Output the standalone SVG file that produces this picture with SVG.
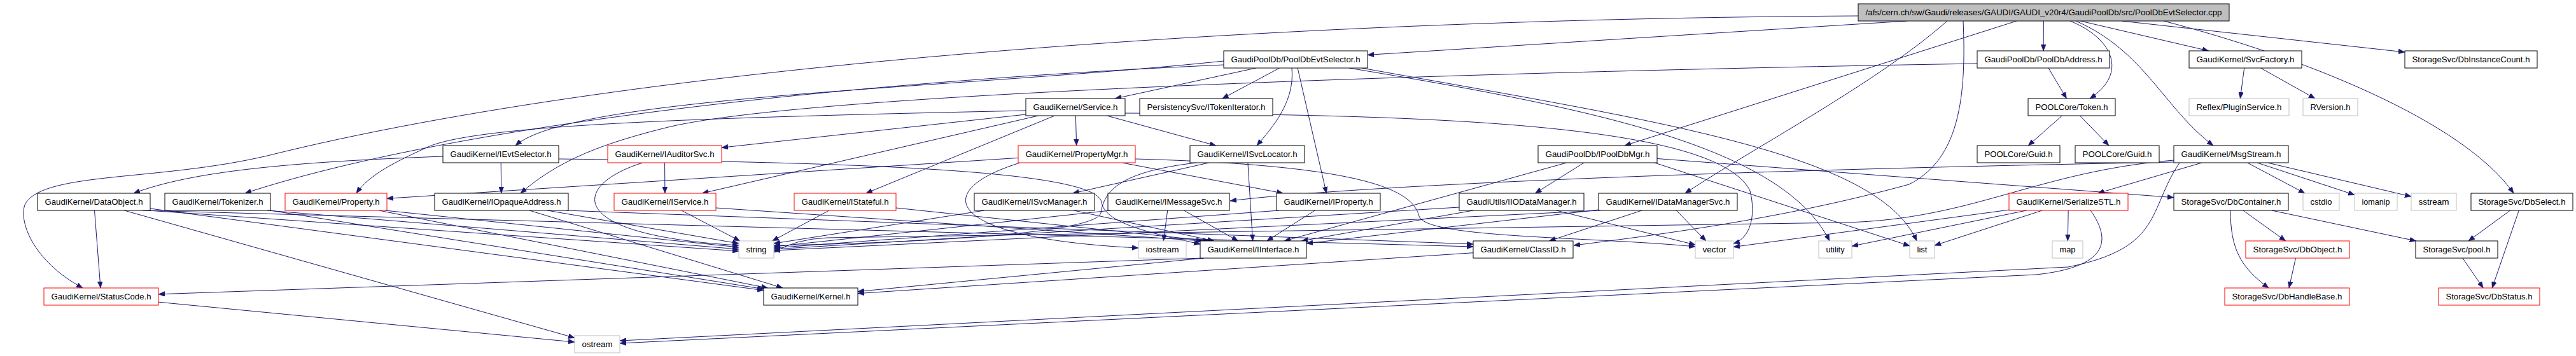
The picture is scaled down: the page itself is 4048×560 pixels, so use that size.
<svg xmlns="http://www.w3.org/2000/svg" width="4048" height="560" viewBox="0 0 4048 560">
<style>
.node rect{fill:#ffffff;stroke:#000000;stroke-width:1}
.node.red rect{stroke:#ff0000}
.node.sys rect{stroke:#bfbfbf}
.node.root rect{fill:#bfbfbf}
.node text{font-family:"Liberation Sans",Arial,sans-serif;font-size:13px;fill:#000000;text-anchor:middle}
#edges path{fill:none;stroke:#191970;stroke-width:1;marker-end:url(#arr)}
</style>
<defs>
<marker id="arr" markerUnits="userSpaceOnUse" markerWidth="10" markerHeight="8" refX="10" refY="4" orient="auto">
<path d="M0,0 L10,4 L0,8 Z" fill="#191970" stroke="#191970" stroke-width="0.5"/>
</marker>
</defs>
<rect x="0" y="0" width="4048" height="560" fill="#ffffff"/>
<g id="edges">
<path d="M2997,33 L2149,86.4"/>
<path d="M3211.4,33 L3211.1,80"/>
<path d="M3269.3,33 L3470.7,80"/>
<path d="M3334,33 L3779,82"/>
<path d="M3253,33 C3320,60 3345,115 3284,155"/>
<path d="M3169,33 L2553,229"/>
<path d="M3262,33 C3370,80 3400,170 3478,229"/>
<path d="M3400,33 C3620,90 3870,190 3950,304"/>
<path d="M2920,25 C2000,30 1000,100 420,245 C250,285 70,270 40,320 C28,345 50,410 130,453"/>
<path d="M3060,33 C2950,130 2760,230 2648,304"/>
<path d="M3085,33 C3090,150 3080,250 3000,290 C2800,345 2600,370 2473,386"/>
<path d="M1973.7,107 L1752.3,155"/>
<path d="M2010.7,107 L1920.8,155"/>
<path d="M2030,107 C2035,160 2000,200 1975,229"/>
<path d="M1923,96 C1500,140 900,150 810,229"/>
<path d="M1923,102 C1300,130 700,200 385,304"/>
<path d="M2039.1,107 L2084.4,304"/>
<path d="M2120,107 C2500,170 2800,230 2875,379"/>
<path d="M2140,107 C2600,190 2950,240 3012,379"/>
<path d="M3219,107 L3247.5,155"/>
<path d="M3107,100 C2500,110 1300,140 1050,200 C950,225 880,250 818,304"/>
<path d="M3526.7,107 L3520.3,155"/>
<path d="M3552.5,107 L3638,155"/>
<path d="M1612,174 C1100,185 760,196 675,230 C620,255 580,275 560,304"/>
<path d="M1612,180 L1134,232.2"/>
<path d="M1690.4,182 L1691.6,229"/>
<path d="M1739.3,182 L1910.7,229"/>
<path d="M1631.6,182 L1103.4,304"/>
<path d="M1657.2,182 L1360.8,304"/>
<path d="M1768,178 C2300,180 2700,200 2750,300 C2760,340 2750,375 2724,383"/>
<path d="M3240.3,182 L3187.2,229"/>
<path d="M3268.5,182 L3314,229"/>
<path d="M787.2,256 L787.8,304"/>
<path d="M878,250 C1300,255 1722,265 1731,318 C1736,350 1800,365 1886,384"/>
<path d="M696,246 C450,255 300,270 210,304"/>
<path d="M1044.6,256 L1044.9,304"/>
<path d="M1010,256 C900,290 880,370 1161,386"/>
<path d="M1600,248.4 L608,312.3"/>
<path d="M1763.2,256 L2016.3,304"/>
<path d="M1603,256 C1460,300 1480,375 1789,390"/>
<path d="M1784,250 C2150,260 2220,300 2230,340 C2240,375 2500,372 2664,388"/>
<path d="M1899.8,256 L1685.7,304"/>
<path d="M1960.9,256 L1968.6,379"/>
<path d="M1880,256 C1760,270 1735,300 1730,335 C1720,370 1400,383 1216,386"/>
<path d="M2489,256 L2412.5,304"/>
<path d="M2604,249.5 L3416,310.7"/>
<path d="M2461.8,256 L2018.2,379"/>
<path d="M2600,256 L3001,386.8"/>
<path d="M3531.5,256 L3622,304"/>
<path d="M3547,256 L3700,306.5"/>
<path d="M3563.3,256 L3789,309.1"/>
<path d="M3460,256 L3296.5,304"/>
<path d="M3416,255 C2600,270 2100,295 1933,316"/>
<path d="M3416,252 C3200,270 3100,345 2900,350 L1300,374 Q1250,376 1216,397"/>
<path d="M3425,256 C3375,330 3400,390 3250,420 L974,536"/>
<path d="M148.5,331 L158,453"/>
<path d="M232,331 L1161,395"/>
<path d="M224,331 L2315,388"/>
<path d="M236,328 L1200,456.7"/>
<path d="M195.3,331 L903,531.4"/>
<path d="M420,331 L1161,392"/>
<path d="M425,331 L1200,454.7"/>
<path d="M605,331 L1161,389"/>
<path d="M595.6,331 L1206.4,453"/>
<path d="M860.1,331 L1161,383"/>
<path d="M832,331 L1230,453"/>
<path d="M890,331 L2315,384"/>
<path d="M1070.8,331 L1162.7,379"/>
<path d="M1125,327 L1890,379"/>
<path d="M1302.9,331 L1213.6,379"/>
<path d="M1408,327 L1900,379"/>
<path d="M1546.8,331 L1216,383"/>
<path d="M1687.4,331 L1907.6,379"/>
<path d="M1834.7,331 L1828.3,379"/>
<path d="M1860.4,331 L1945.6,379"/>
<path d="M1745,331 L1216,388"/>
<path d="M2066.3,331 L1990.7,379"/>
<path d="M2010,331 L1216,390"/>
<path d="M2315.1,331 L2045.4,379"/>
<path d="M2293,326 L1216,392"/>
<path d="M2445.5,331 L2664,385.1"/>
<path d="M2580,331 L2434.5,379"/>
<path d="M2634.1,331 L2680.9,379"/>
<path d="M2512,330 L2053,382.9"/>
<path d="M2515,331 L1216,394"/>
<path d="M3250.2,331 L3249.3,379"/>
<path d="M3209.1,331 L3040,386.1"/>
<path d="M3184.5,331 L2910,387.2"/>
<path d="M3157,330.1 L2724,388.5"/>
<path d="M3285,331 C3320,380 3310,420 3200,432 L974,540"/>
<path d="M3524.8,331 L3591.7,379"/>
<path d="M3505,331 C3505,390 3520,420 3565,453"/>
<path d="M3569.8,331 L3796.7,379"/>
<path d="M3944.6,331 L3879,379"/>
<path d="M3958.3,331 L3916.2,453"/>
<path d="M1892,406 L1348,458.6"/>
<path d="M1890,406 L249,462.8"/>
<path d="M2315,397.7 L1348,461.6"/>
<path d="M3607.5,406 L3597,453"/>
<path d="M3869.8,406 L3902.2,453"/>
<path d="M249,475.2 L903,538.1"/>
</g>
<g id="n0" class="node root"><rect x="2920" y="6" width="583" height="27"/><text x="3211.5" y="24" textLength="560" lengthAdjust="spacingAndGlyphs">/afs/cern.ch/sw/Gaudi/releases/GAUDI/GAUDI_v20r4/GaudiPoolDb/src/PoolDbEvtSelector.cpp</text></g>
<g id="n1" class="node"><rect x="1923" y="80" width="226" height="27"/><text x="2036" y="98" textLength="203" lengthAdjust="spacingAndGlyphs">GaudiPoolDb/PoolDbEvtSelector.h</text></g>
<g id="n2" class="node"><rect x="3107" y="80" width="208" height="27"/><text x="3211" y="98" textLength="185" lengthAdjust="spacingAndGlyphs">GaudiPoolDb/PoolDbAddress.h</text></g>
<g id="n3" class="node"><rect x="3440" y="80" width="177" height="27"/><text x="3528.5" y="98" textLength="154" lengthAdjust="spacingAndGlyphs">GaudiKernel/SvcFactory.h</text></g>
<g id="n4" class="node"><rect x="3779" y="80" width="208" height="27"/><text x="3883" y="98" textLength="185" lengthAdjust="spacingAndGlyphs">StorageSvc/DbInstanceCount.h</text></g>
<g id="n5" class="node"><rect x="1612" y="155" width="156" height="27"/><text x="1690" y="173" textLength="133" lengthAdjust="spacingAndGlyphs">GaudiKernel/Service.h</text></g>
<g id="n6" class="node"><rect x="1791" y="155" width="209" height="27"/><text x="1895.5" y="173" textLength="186" lengthAdjust="spacingAndGlyphs">PersistencySvc/ITokenIterator.h</text></g>
<g id="n7" class="node"><rect x="3187" y="155" width="137" height="27"/><text x="3255.5" y="173" textLength="114" lengthAdjust="spacingAndGlyphs">POOLCore/Token.h</text></g>
<g id="n8" class="node sys"><rect x="3440" y="155" width="157" height="27"/><text x="3518.5" y="173" textLength="134" lengthAdjust="spacingAndGlyphs">Reflex/PluginService.h</text></g>
<g id="n9" class="node sys"><rect x="3619" y="155" width="86" height="27"/><text x="3662" y="173" textLength="63" lengthAdjust="spacingAndGlyphs">RVersion.h</text></g>
<g id="n10" class="node"><rect x="696" y="229" width="182" height="27"/><text x="787" y="247" textLength="159" lengthAdjust="spacingAndGlyphs">GaudiKernel/IEvtSelector.h</text></g>
<g id="n11" class="node red"><rect x="955" y="229" width="179" height="27"/><text x="1044.5" y="247" textLength="156" lengthAdjust="spacingAndGlyphs">GaudiKernel/IAuditorSvc.h</text></g>
<g id="n12" class="node red"><rect x="1600" y="229" width="184" height="27"/><text x="1692" y="247" textLength="161" lengthAdjust="spacingAndGlyphs">GaudiKernel/PropertyMgr.h</text></g>
<g id="n13" class="node"><rect x="1870" y="229" width="180" height="27"/><text x="1960" y="247" textLength="157" lengthAdjust="spacingAndGlyphs">GaudiKernel/ISvcLocator.h</text></g>
<g id="n14" class="node"><rect x="2417" y="229" width="187" height="27"/><text x="2510.5" y="247" textLength="164" lengthAdjust="spacingAndGlyphs">GaudiPoolDb/IPoolDbMgr.h</text></g>
<g id="n15" class="node"><rect x="3107" y="229" width="130" height="27"/><text x="3172" y="247" textLength="107" lengthAdjust="spacingAndGlyphs">POOLCore/Guid.h</text></g>
<g id="n16" class="node"><rect x="3261" y="229" width="132" height="27"/><text x="3327" y="247" textLength="109" lengthAdjust="spacingAndGlyphs">POOLCore/Guid.h</text></g>
<g id="n17" class="node"><rect x="3416" y="229" width="180" height="27"/><text x="3506" y="247" textLength="157" lengthAdjust="spacingAndGlyphs">GaudiKernel/MsgStream.h</text></g>
<g id="n18" class="node"><rect x="59" y="304" width="177" height="27"/><text x="147.5" y="322" textLength="154" lengthAdjust="spacingAndGlyphs">GaudiKernel/DataObject.h</text></g>
<g id="n19" class="node"><rect x="259" y="304" width="166" height="27"/><text x="342" y="322" textLength="143" lengthAdjust="spacingAndGlyphs">GaudiKernel/Tokenizer.h</text></g>
<g id="n20" class="node red"><rect x="448" y="304" width="160" height="27"/><text x="528" y="322" textLength="137" lengthAdjust="spacingAndGlyphs">GaudiKernel/Property.h</text></g>
<g id="n21" class="node"><rect x="683" y="304" width="210" height="27"/><text x="788" y="322" textLength="187" lengthAdjust="spacingAndGlyphs">GaudiKernel/IOpaqueAddress.h</text></g>
<g id="n22" class="node red"><rect x="965" y="304" width="160" height="27"/><text x="1045" y="322" textLength="137" lengthAdjust="spacingAndGlyphs">GaudiKernel/IService.h</text></g>
<g id="n23" class="node red"><rect x="1248" y="304" width="160" height="27"/><text x="1328" y="322" textLength="137" lengthAdjust="spacingAndGlyphs">GaudiKernel/IStateful.h</text></g>
<g id="n24" class="node"><rect x="1531" y="304" width="189" height="27"/><text x="1625.5" y="322" textLength="166" lengthAdjust="spacingAndGlyphs">GaudiKernel/ISvcManager.h</text></g>
<g id="n25" class="node"><rect x="1741" y="304" width="191" height="27"/><text x="1836.5" y="322" textLength="168" lengthAdjust="spacingAndGlyphs">GaudiKernel/IMessageSvc.h</text></g>
<g id="n26" class="node"><rect x="2006" y="304" width="163" height="27"/><text x="2087.5" y="322" textLength="140" lengthAdjust="spacingAndGlyphs">GaudiKernel/IProperty.h</text></g>
<g id="n27" class="node"><rect x="2293" y="304" width="196" height="27"/><text x="2391" y="322" textLength="173" lengthAdjust="spacingAndGlyphs">GaudiUtils/IIODataManager.h</text></g>
<g id="n28" class="node"><rect x="2512" y="304" width="218" height="27"/><text x="2621" y="322" textLength="195" lengthAdjust="spacingAndGlyphs">GaudiKernel/IDataManagerSvc.h</text></g>
<g id="n29" class="node red"><rect x="3157" y="304" width="187" height="27"/><text x="3250.5" y="322" textLength="164" lengthAdjust="spacingAndGlyphs">GaudiKernel/SerializeSTL.h</text></g>
<g id="n30" class="node"><rect x="3416" y="304" width="180" height="27"/><text x="3506" y="322" textLength="157" lengthAdjust="spacingAndGlyphs">StorageSvc/DbContainer.h</text></g>
<g id="n31" class="node sys"><rect x="3619" y="304" width="57" height="27"/><text x="3647.5" y="322" textLength="34" lengthAdjust="spacingAndGlyphs">cstdio</text></g>
<g id="n32" class="node sys"><rect x="3700" y="304" width="67" height="27"/><text x="3733.5" y="322" textLength="44" lengthAdjust="spacingAndGlyphs">iomanip</text></g>
<g id="n33" class="node sys"><rect x="3789" y="304" width="71" height="27"/><text x="3824.5" y="322" textLength="48" lengthAdjust="spacingAndGlyphs">sstream</text></g>
<g id="n34" class="node"><rect x="3883" y="304" width="160" height="27"/><text x="3963" y="322" textLength="137" lengthAdjust="spacingAndGlyphs">StorageSvc/DbSelect.h</text></g>
<g id="n35" class="node sys"><rect x="1161" y="379" width="55" height="27"/><text x="1188.5" y="397" textLength="32" lengthAdjust="spacingAndGlyphs">string</text></g>
<g id="n36" class="node sys"><rect x="1789" y="379" width="75" height="27"/><text x="1826.5" y="397" textLength="52" lengthAdjust="spacingAndGlyphs">iostream</text></g>
<g id="n37" class="node"><rect x="1886" y="379" width="167" height="27"/><text x="1969.5" y="397" textLength="144" lengthAdjust="spacingAndGlyphs">GaudiKernel/IInterface.h</text></g>
<g id="n38" class="node"><rect x="2315" y="379" width="157" height="27"/><text x="2393.5" y="397" textLength="134" lengthAdjust="spacingAndGlyphs">GaudiKernel/ClassID.h</text></g>
<g id="n39" class="node sys"><rect x="2664" y="379" width="60" height="27"/><text x="2694" y="397" textLength="37" lengthAdjust="spacingAndGlyphs">vector</text></g>
<g id="n40" class="node sys"><rect x="2858" y="379" width="52" height="27"/><text x="2884" y="397" textLength="29" lengthAdjust="spacingAndGlyphs">utility</text></g>
<g id="n41" class="node sys"><rect x="3001" y="379" width="39" height="27"/><text x="3020.5" y="397" textLength="16" lengthAdjust="spacingAndGlyphs">list</text></g>
<g id="n42" class="node sys"><rect x="3225" y="379" width="48" height="27"/><text x="3249" y="397" textLength="25" lengthAdjust="spacingAndGlyphs">map</text></g>
<g id="n43" class="node red"><rect x="3529" y="379" width="163" height="27"/><text x="3610.5" y="397" textLength="140" lengthAdjust="spacingAndGlyphs">StorageSvc/DbObject.h</text></g>
<g id="n44" class="node"><rect x="3796" y="379" width="129" height="27"/><text x="3860.5" y="397" textLength="106" lengthAdjust="spacingAndGlyphs">StorageSvc/pool.h</text></g>
<g id="n45" class="node red"><rect x="69" y="453" width="180" height="27"/><text x="159" y="471" textLength="157" lengthAdjust="spacingAndGlyphs">GaudiKernel/StatusCode.h</text></g>
<g id="n46" class="node"><rect x="1200" y="453" width="148" height="27"/><text x="1274" y="471" textLength="125" lengthAdjust="spacingAndGlyphs">GaudiKernel/Kernel.h</text></g>
<g id="n47" class="node red"><rect x="3496" y="453" width="196" height="27"/><text x="3594" y="471" textLength="173" lengthAdjust="spacingAndGlyphs">StorageSvc/DbHandleBase.h</text></g>
<g id="n48" class="node red"><rect x="3832" y="453" width="159" height="27"/><text x="3911.5" y="471" textLength="136" lengthAdjust="spacingAndGlyphs">StorageSvc/DbStatus.h</text></g>
<g id="n49" class="node sys"><rect x="903" y="528" width="71" height="27"/><text x="938.5" y="546" textLength="48" lengthAdjust="spacingAndGlyphs">ostream</text></g>
</svg>
